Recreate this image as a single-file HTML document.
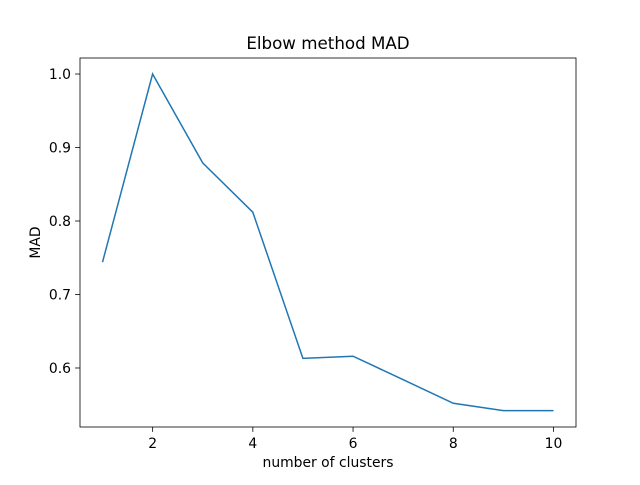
<!DOCTYPE html>
<html><head><meta charset="utf-8"><style>
body{margin:0;background:#fff;}
svg text{font-family:"DejaVu Sans","Liberation Sans",sans-serif;fill:#000;}
</style></head><body>
<svg width="640" height="480">
<rect width="640" height="480" fill="#fff"/>
<g id="plot"></g>
</svg>
<script>
const xValues=[1,2,3,4,5,6,7,8,9,10];
const madValues=[0.744,1.0,0.879,0.812,0.613,0.616,0.584,0.552,0.542,0.542];
const xTicks=[2,4,6,8,10];
const yTicks=[0.6,0.7,0.8,0.9,1.0];
const L=80,R=576,T=58,B=427;
const xmin=0.55,xmax=10.45,ymin=0.5197,ymax=1.0218;
const sx=v=>L+(v-xmin)/(xmax-xmin)*(R-L);
const sy=v=>B-(v-ymin)/(ymax-ymin)*(B-T);
const g=document.getElementById('plot');
const NS='http://www.w3.org/2000/svg';
function mk(t,a,txt){const e=document.createElementNS(NS,t);for(const k in a)e.setAttribute(k,a[k]);if(txt!==undefined)e.textContent=txt;g.appendChild(e);return e;}
let p=xValues.map((x,i)=>(i?'L':'M')+sx(x).toFixed(1)+','+sy(madValues[i]).toFixed(1)).join(' ');
let line=mk('path',{d:p,fill:'none',stroke:'#1f77b4','stroke-width':1.5});


xTicks.forEach(v=>{const x=sx(v);
let tk=mk('line',{x1:x,x2:x,y1:B,y2:B+4.9,stroke:'#000','stroke-width':0.8});


let t=mk('text',{x:x,y:B+21,'text-anchor':'middle','font-size':13.9},String(v));

});
yTicks.forEach(v=>{const y=sy(v);
let tk=mk('line',{x1:L-4.9,x2:L,y1:y,y2:y,stroke:'#000','stroke-width':0.8});


let t=mk('text',{x:L-9,y:y+5,'text-anchor':'end','font-size':13.9},v.toFixed(1));

});
let fr=mk('rect',{x:L,y:T,width:R-L,height:B-T,fill:'none',stroke:'#000','stroke-width':0.8});


let ti=mk('text',{x:(L+R)/2,y:T-9,'text-anchor':'middle','font-size':16.7},'Elbow method MAD');


let xl=mk('text',{x:(L+R)/2,y:467,'text-anchor':'middle','font-size':13.9},'number of clusters');


let yl=mk('text',{x:40,y:(T+B)/2,'text-anchor':'middle','font-size':13.9,transform:'rotate(-90 40 '+(T+B)/2+')'},'MAD');


</script>
</body></html>
